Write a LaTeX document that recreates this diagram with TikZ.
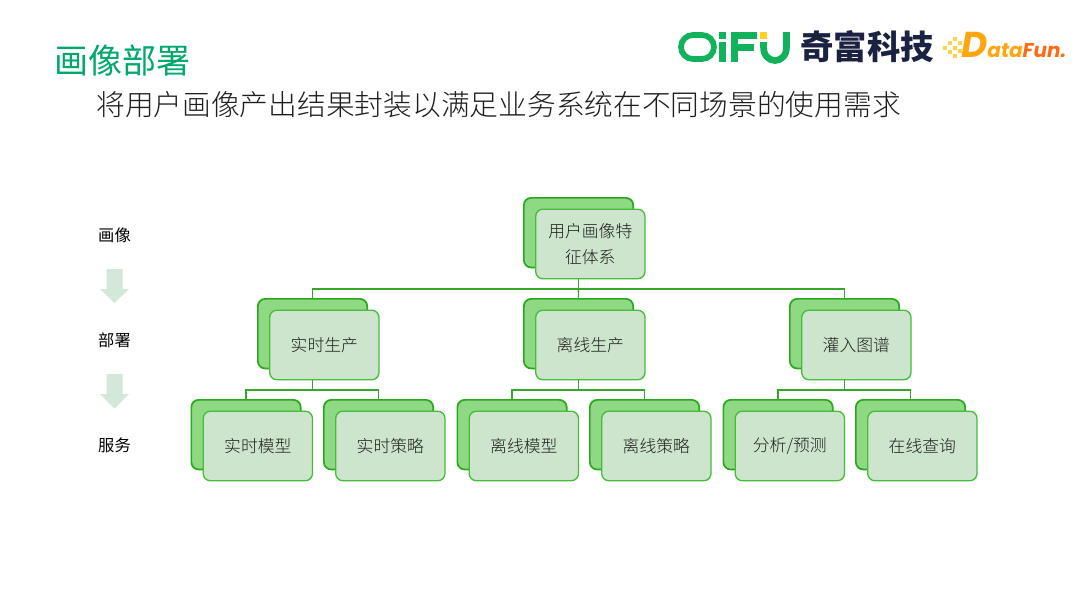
\documentclass[tikz,border=0pt]{standalone}
\usepackage{fontspec}
\setmainfont{Noto Sans CJK SC}
\newfontfamily\cjklight{Noto Sans CJK SC}[UprightFont={* Light}]
\newfontfamily\latinlogo{Poppins}
\definecolor{backfill}{HTML}{8FD984}
\definecolor{backline}{HTML}{2CA81F}
\definecolor{frontfill}{HTML}{CDE5CD}
\definecolor{frontline}{HTML}{46BD3A}
\definecolor{connline}{HTML}{35A82A}
\definecolor{titlegreen}{HTML}{00A86B}
\definecolor{arrowfill}{HTML}{D3E8D8}
\definecolor{qifugreen}{HTML}{12B25C}
\definecolor{qifuyellow}{HTML}{FFD21E}
\definecolor{navy}{HTML}{1B2140}
\definecolor{dforange}{HTML}{FFA50F}
\definecolor{dfred}{HTML}{FF6A14}
\definecolor{dfdot}{HTML}{FFD24A}
\definecolor{textdark}{HTML}{1E1E1E}
\tikzset{
  x=0.75pt,y=-0.75pt,
  backbox/.style={draw=backline,fill=backfill,line width=1.3pt,rounded corners=5.5pt,minimum width=82pt,minimum height=52.2pt,inner sep=0pt},
  frontbox/.style={draw=frontline,fill=frontfill,line width=1pt,rounded corners=5.5pt,minimum width=82pt,minimum height=52.2pt,inner sep=0pt,text width=72pt,align=center,font=\cjklight\fontsize{12.6}{19.6}\selectfont,text=textdark},
  conn/.style={draw=connline,line width=1pt},
  sidelabel/.style={font=\fontsize{12.2}{14}\selectfont,text=black,inner sep=0pt},
  downarrow/.style={fill=arrowfill,draw=none},
  logobar/.style={fill=qifugreen,draw=none},
  logodot/.style={fill=dfdot,draw=none},
}
\begin{document}
\begin{tikzpicture}
\useasboundingbox (0,0) rectangle (1080,608);
% title
\node[font=\fontsize{25.5}{30}\selectfont,text=titlegreen,inner sep=0pt] (title) at (122,60) {画像部署};
\node[anchor=west,font=\cjklight\fontsize{21.55}{28}\selectfont,text=textdark,inner sep=0pt] (subtitle) at (96,105) {将用户画像产出结果封装以满足业务系统在不同场景的使用需求};
% QIFU logo
\draw[qifugreen,line width=4.3pt,rounded corners=9pt] (698,59) -- (681,59) -- (681,35) -- (714,35) -- (714,59) -- (694,59);
\fill[logobar] (718.5,32) rectangle (726,39);
\fill[logobar] (718.5,42) rectangle (726,62);
\fill[logobar] (731,32) rectangle (738,62);
\fill[logobar] (731,32) rectangle (757,39);
\fill[logobar] (731,44) rectangle (754,50.5);
\fill[qifuyellow] (760,32) rectangle (767,39);
\draw[qifugreen,line width=5pt] (763.5,42) -- (763.5,47) .. controls (763.5,65) and (786.5,65) .. (786.5,47) -- (786.5,32);
% brand text
\node[font=\bfseries\fontsize{25}{28}\selectfont,text=navy,inner sep=0pt] (brand) at (867,47) {奇富科技};
% DataFun logo
\foreach \a/\b in {943/46,948/41,953/37,948/50,953/46,958/41,953/54,958/49}{\fill[logodot] (\a,\b) rectangle ++(3.6,3.6);}
\node[anchor=base west,font=\latinlogo\bfseries\itshape\fontsize{15}{18}\selectfont,inner sep=0pt] (datafun) at (961,57) {\textcolor{dforange}{{\fontsize{27}{28}\selectfont D}ata}\textcolor{dfred}{Fun.}};
% side labels
\node[sidelabel] (s1) at (114.5,235) {画像};
\node[sidelabel] (s2) at (114.5,340) {部署};
\node[sidelabel] (s3) at (114.5,445) {服务};
\fill[downarrow] (106.5,269) -- (122.5,269) -- (122.5,289) -- (129,289) -- (114.5,303) -- (100,289) -- (106.5,289) -- cycle;
\fill[downarrow] (106.5,374) -- (122.5,374) -- (122.5,394) -- (129,394) -- (114.5,408.5) -- (100,394) -- (106.5,394) -- cycle;
\newcommand{\cardnode}[4]{%
  \node[backbox,anchor=north west] (#1b) at (#2,#3) {};
  \node[frontbox,anchor=north west] (#1) at (#2+12,#3+11.5) {#4};
}
\cardnode{root}{523}{197}{用户画像特\\征体系}
\cardnode{rt}{257}{298}{实时生产}
\cardnode{off}{523}{298}{离线生产}
\cardnode{gr}{789}{298}{灌入图谱}
\cardnode{rtm}{190.5}{399}{实时模型}
\cardnode{rts}{323}{399}{实时策略}
\cardnode{offm}{456.5}{399}{离线模型}
\cardnode{offs}{589}{399}{离线策略}
\cardnode{grm}{722.5}{399}{分析/预测}
\cardnode{grs}{855}{399}{在线查询}
% connectors
\draw[conn] (root.south) ++(-12,0) -- ++(0,9.5) coordinate (rb);
\draw[conn] (rtb.north) |- (rb) -| (grb.north);
\draw[conn] (rb) -- (offb.north);
\foreach \p/\l/\r in {rt/rtmb/rtsb,off/offmb/offsb,gr/grmb/grsb}{
  \draw[conn] (\p.south) ++(-12,0) -- ++(0,9.5) coordinate (tmp);
  \draw[conn] (\l.north) |- (tmp) -| (\r.north);
}
\end{tikzpicture}
\end{document}
